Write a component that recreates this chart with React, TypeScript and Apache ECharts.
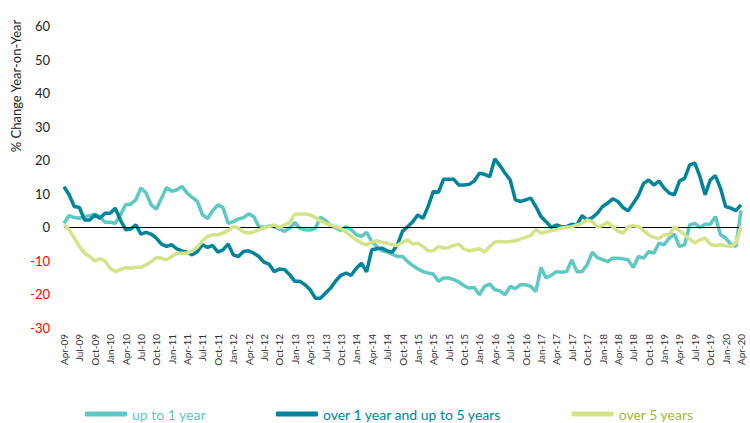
import React, { useEffect, useRef } from "react";
import * as echarts from "echarts";

const MONTHS = ["Jan", "Feb", "Mar", "Apr", "May", "Jun", "Jul", "Aug", "Sep", "Oct", "Nov", "Dec"];
const categories: string[] = [];
for (let i = 0; i < 133; i++) {
  const m = (3 + i) % 12;
  const y = 2009 + Math.floor((3 + i) / 12);
  categories.push(`${MONTHS[m]}-${String(y % 100).padStart(2, "0")}`);
}

const upTo1Year = [
  1.2, 3.5, 2.9, 2.7, 3.2, 3.5, 3.9, 3.2, 1.5, 1.5, 1.2, 3.7, 6.7, 6.9, 8.2, 11.7, 10.2, 6.7, 5.4, 8.7,
  11.9, 10.7, 11.2, 12.2, 10.2, 8.9, 7.7, 3.8, 2.6, 5.0, 6.7, 5.9, 1.2, 1.7, 2.5, 2.9, 4.0, 3.2, 0.2, 0.0,
  0.4, 0.2, -0.5, -1.2, -0.3, 1.5, -0.3, -0.7, -0.8, -0.3, 3.0, 2.0, 0.5, -0.2, -1.0, 0.2, -0.7, -2.2, -2.7, -1.5,
  -4.2, -5.7, -7.0, -7.4, -8.0, -8.7, -8.7, -10.2, -11.4, -12.4, -13.2, -13.6, -13.9, -16.1, -15.1, -15.1, -15.6, -16.3, -17.4, -18.1,
  -17.9, -20.1, -17.6, -16.9, -18.6, -18.9, -20.1, -17.6, -18.3, -17.1, -17.1, -17.6, -19.1, -12.0, -15.1, -14.3, -13.2, -13.4, -13.2, -9.7,
  -13.2, -13.2, -11.2, -7.4, -9.0, -9.6, -10.2, -9.2, -9.2, -9.4, -9.7, -12.0, -8.7, -9.2, -7.2, -7.7, -4.7, -5.2, -3.2, -2.0,
  -5.7, -5.2, 0.7, 1.2, 0.0, 0.9, 0.9, 3.2, -2.2, -3.2, -5.0, -5.7, 5.0,
];

const over1To5Years = [
  12.1, 9.7, 6.2, 5.9, 2.2, 2.2, 3.7, 2.7, 4.2, 4.2, 5.7, 2.2, -0.7, -0.5, 0.7, -2.0, -1.5, -2.0, -3.2, -5.0,
  -5.7, -5.2, -6.4, -7.0, -7.4, -8.2, -7.2, -5.2, -6.0, -5.4, -7.4, -6.7, -5.0, -8.2, -8.7, -7.2, -7.0, -7.7, -8.7, -10.4,
  -11.0, -13.2, -12.4, -12.6, -14.1, -16.1, -16.1, -17.1, -18.6, -21.1, -21.1, -19.6, -18.1, -15.9, -14.3, -13.6, -14.3, -12.2, -10.7, -13.3,
  -6.7, -6.4, -6.2, -7.0, -7.4, -5.2, -1.2, 0.2, 1.7, 3.7, 2.7, 6.2, 10.7, 10.4, 14.3, 14.3, 14.3, 12.6, 12.6, 12.8,
  13.8, 16.1, 15.8, 15.1, 20.4, 18.4, 16.1, 14.1, 8.2, 7.7, 8.2, 8.7, 6.2, 3.2, 1.7, 0.0, 0.7, 0.2, 0.2, 0.9,
  0.7, 3.5, 2.2, 2.9, 4.2, 6.2, 7.2, 8.5, 7.7, 5.9, 4.9, 7.2, 9.5, 13.1, 14.1, 12.6, 13.8, 11.7, 10.2, 9.7,
  13.8, 14.6, 18.6, 19.1, 15.1, 9.7, 14.1, 15.4, 11.7, 6.2, 5.7, 5.0, 6.7,
];

const over5Years = [
  0.8, -0.7, -3.2, -5.7, -7.7, -8.7, -10.0, -9.4, -10.0, -12.2, -13.2, -12.6, -12.0, -12.2, -11.9, -11.9, -11.2, -10.2, -9.0, -9.2,
  -9.7, -8.7, -7.7, -7.7, -7.7, -7.0, -5.9, -4.0, -2.7, -2.2, -2.2, -1.7, -1.0, 0.2, -0.2, -1.4, -1.7, -1.4, -0.7, -0.2,
  0.2, 0.7, 0.0, 0.7, 1.5, 3.9, 4.0, 4.0, 3.7, 2.9, 1.9, 1.2, 0.6, 0.2, -0.4, -1.4, -2.7, -3.7, -4.7, -5.2,
  -4.4, -4.0, -4.5, -4.7, -5.2, -5.4, -4.4, -3.7, -5.0, -4.7, -5.7, -7.0, -7.0, -5.7, -6.2, -6.0, -5.4, -5.0, -6.5, -7.0,
  -6.7, -6.4, -7.4, -5.7, -4.4, -4.2, -4.4, -4.2, -4.0, -3.5, -3.0, -2.4, -0.7, -1.7, -1.4, -1.0, -0.7, -0.2, 0.0, 0.2,
  0.7, 1.2, 2.2, 1.7, 0.2, 0.5, 1.5, 0.2, -1.2, -1.7, 0.2, 0.5, 0.2, -1.0, -2.2, -3.0, -3.4, -2.2, -2.2, 0.2,
  -1.0, -2.2, -3.5, -4.7, -3.7, -3.2, -5.0, -5.4, -5.2, -5.5, -5.7, -4.7, 0.2,
];

const seriesNames = ["up to 1 year", "over 1 year and up to 5 years", "over 5 years"];
const lineColors = ["#5ec8c2", "#00849c", "#d5e388"];
const legendTextColors = ["#5ec8c2", "#00849c", "#a3b93e"];

export default function App() {
  const ref = useRef<HTMLDivElement>(null);
  useEffect(() => {
    if (!ref.current) return;
    document.body.style.margin = "0";
    const chart = echarts.init(ref.current, undefined, { renderer: "svg" });
    const font = "Lato, 'Noto Sans', sans-serif";
    const datasets = [upTo1Year, over1To5Years, over5Years];
    chart.setOption({
      animation: false,
      textStyle: { fontFamily: font },
      grid: { left: 64, right: 9, top: 26, bottom: 95, containLabel: false },
      xAxis: {
        type: "category",
        data: categories,
        boundaryGap: false,
        axisLine: { show: false },
        axisTick: { show: false },
        axisLabel: {
          interval: 2,
          rotate: 90,
          fontSize: 10,
          color: "#333",
          margin: 6,
          fontFamily: font,
        },
        splitLine: { show: false },
      },
      yAxis: {
        type: "value",
        min: -30,
        max: 60,
        interval: 10,
        axisLine: { show: false },
        axisTick: { show: false },
        splitLine: { show: false },
        axisLabel: {
          margin: 14,
          fontSize: 13,
          fontFamily: font,
          formatter: (v: number) => (v < 0 ? `{neg|${v}}` : `{pos|${v}}`),
          rich: {
            neg: { color: "#ff0000", fontSize: 13, fontFamily: font },
            pos: { color: "#222", fontSize: 13, fontFamily: font },
          },
        },
      },
      legend: {
        left: 80,
        top: 402,
        itemGap: 70,
        itemWidth: 42,
        itemHeight: 5,
        icon: "roundRect",
        data: seriesNames.map((n, i) => ({
          name: n,
          textStyle: { color: legendTextColors[i], fontSize: 14, fontFamily: font },
        })),
      },
      graphic: [
        {
          type: "text",
          x: 16,
          y: 86,
          rotation: Math.PI / 2,
          style: {
            text: "% Change Year-on-Year",
            fontSize: 13,
            fontFamily: font,
            fill: "#222",
            align: "center",
            verticalAlign: "middle",
          },
        },
      ],
      series: datasets.map((d, i) => ({
        name: seriesNames[i],
        type: "line",
        data: d,
        symbol: "none",
        smooth: false,
        lineStyle: { color: lineColors[i], width: 3.5 },
        itemStyle: { color: lineColors[i] },
        z: 3 + i,
        markLine:
          i === 0
            ? {
                silent: true,
                symbol: "none",
                label: { show: false },
                lineStyle: { color: "#000", width: 1, type: "solid" },
                data: [{ yAxis: 0 }],
              }
            : undefined,
      })),
    });
    return () => chart.dispose();
  }, []);
  return <div ref={ref} style={{ width: 750, height: 423 }} />;
}
